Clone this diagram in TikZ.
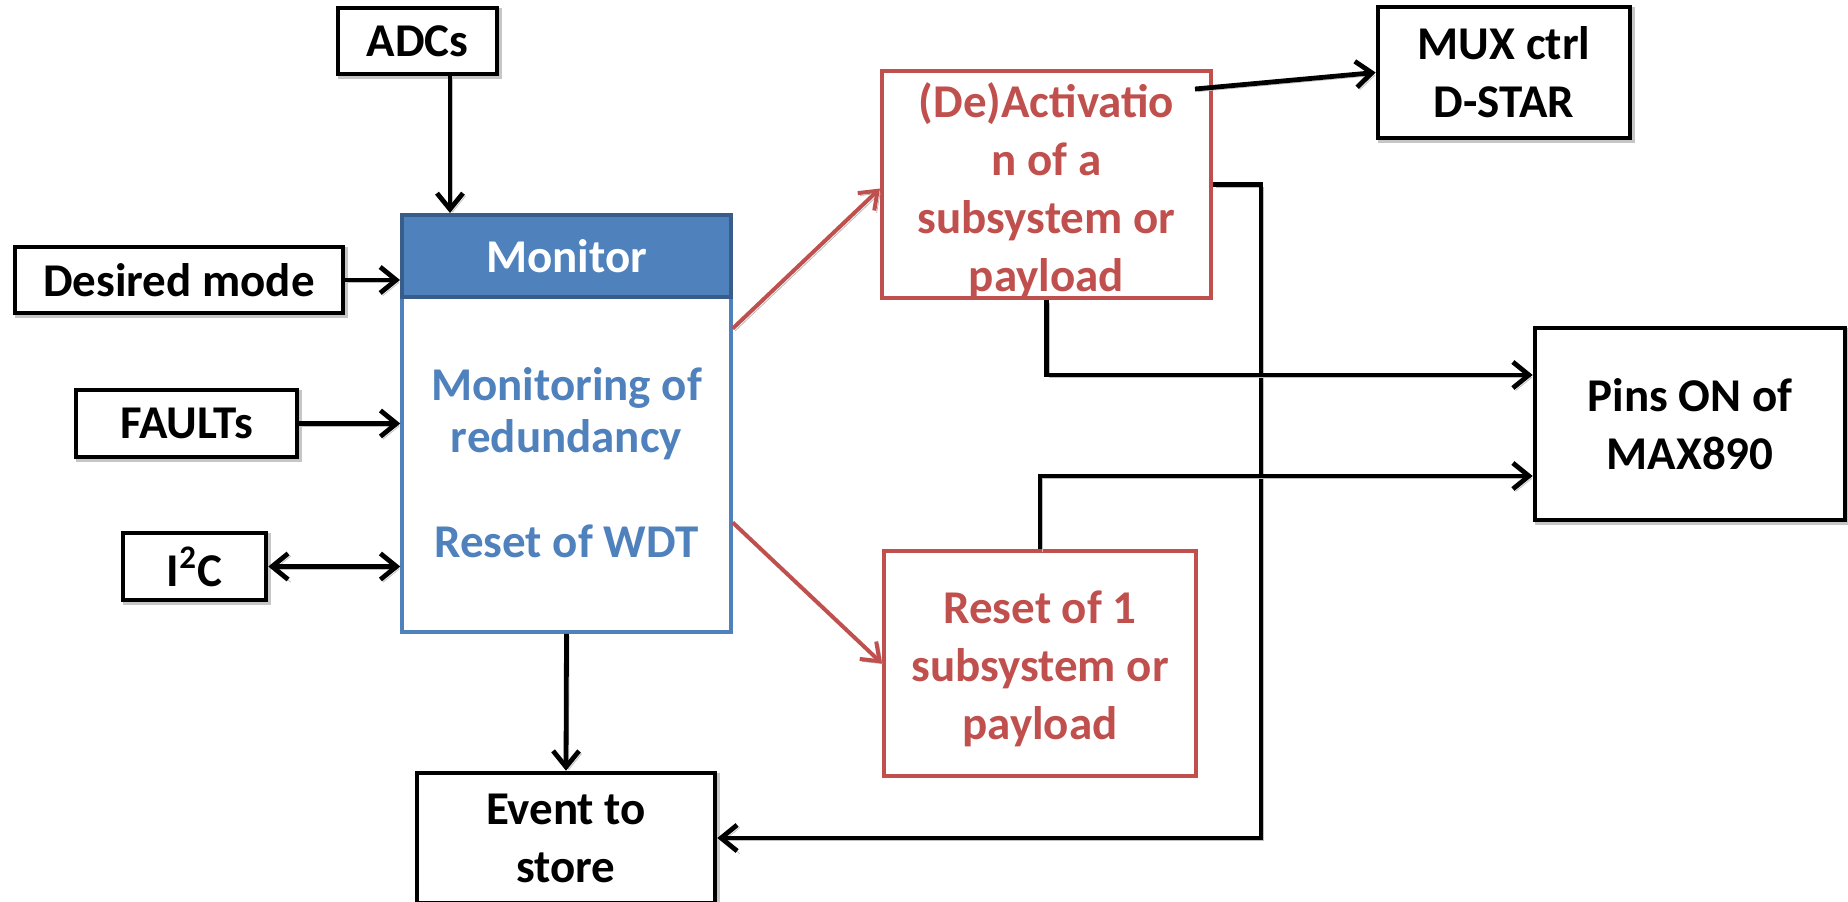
\documentclass[tikz,border=0pt]{standalone}
\usepackage{fontspec}
\setmainfont{Carlito}
\usetikzlibrary{arrows.meta,calc,shadows}
\definecolor{hdrblue}{HTML}{4F81BD}
\definecolor{hdredge}{HTML}{385D8A}
\definecolor{boxred}{HTML}{C0504D}

\begin{document}
\begin{tikzpicture}[x=0.5pt,y=-0.5pt,
  font=\fontsize{23.5}{29}\selectfont\bfseries,
  shade box/.style={drop shadow={shadow xshift=1.2pt, shadow yshift=-1.2pt,
      opacity=1, fill=none, draw=gray!45, line width=2.3pt}},
  blk/.style={draw=black, line width=2.3pt, fill=white, inner sep=0pt,
      align=center, shade box},
  redbox/.style={draw=boxred, line width=2pt, fill=white, inner sep=0pt},
  redtxt/.style={text=boxred, align=center},
  bluetxt/.style={text=hdrblue, align=center,
      font=\fontsize{23.5}{26}\selectfont\bfseries},
  wire/.style={line width=2.4pt, line join=miter,
      preaction={draw=gray!50, transform canvas={shift={(1.3pt,-1.3pt)}}}},
  arr/.style={wire, -{Straight Barb[length=8pt,width=13pt]}},
  dblarr/.style={wire, {Straight Barb[length=8pt,width=13pt]}-{Straight Barb[length=8pt,width=13pt]}},
  redarr/.style={line width=2pt, draw=boxred,
      preaction={draw=gray!55, transform canvas={shift={(1.2pt,-1.2pt)}}},
      -{Straight Barb[length=8pt,width=12pt]}},
]
\useasboundingbox (0,0) rectangle (1848,901);

% inputs on the left
\node[blk, minimum width=79.5pt, minimum height=33pt] (adc) at (417.5,41) {ADCs};
\node[blk, minimum width=164pt, minimum height=33pt] (des) at (179,280) {Desired mode};
\node[blk, minimum width=110.5pt, minimum height=33.5pt] (flt) at (186.5,423.5) {FAULTs};
\node[blk, minimum width=71.5pt, minimum height=33.5pt] (i2c) at (194.5,566.5) {I\textsuperscript{2}C};

% monitor block
\node[draw=hdrblue, line width=1.75pt, fill=white, minimum width=164.5pt,
      minimum height=167.5pt, inner sep=0pt] (mon) at (566.5,464.5) {};
\node[draw=hdredge, line width=2pt, fill=hdrblue, text=white,
      minimum width=164.5pt, minimum height=41pt, inner sep=0pt] (hdr) at (566.5,256) {Monitor};
\node[bluetxt] (montxt) at (566.5,414) {Monitoring of\\redundancy};
\node[bluetxt] (wdttxt) at (566.5,541) {Reset of WDT};

% output
\node[blk, minimum width=149pt, minimum height=65pt] (evt) at (566,838) {Event to\\store};

% actions
\node[redbox, minimum width=164.5pt, minimum height=113.5pt] (act) at (1046.5,184.5) {};
\node[redtxt] (acttxt) at (1046.5,191) {(De)Activatio\\n of a\\subsystem or\\payload};
\node[redbox, minimum width=156pt, minimum height=112.5pt] (rst) at (1040,663.5) {};
\node[redtxt] (rsttxt) at (1040,669) {Reset of 1\\subsystem or\\payload};

% targets
\node[blk, minimum width=126pt, minimum height=65.5pt] (mux) at (1504,72.5) {MUX ctrl\\D-STAR};
\node[blk, minimum width=155pt, minimum height=96pt] (pins) at (1690,424) {Pins ON of\\MAX890};

% connectors into the monitor
\draw[arr] ([xshift=16.25pt]adc.south) -- ([xshift=16.25pt]adc.south |- hdr.north);
\draw[arr] (des.east) -- (des.east -| hdr.west);
\draw[arr] (flt.east) -- (flt.east -| mon.west);
\draw[dblarr] (i2c.east) -- (i2c.east -| mon.west);
\draw[arr] (mon.south) -- (evt.north);

% monitor to actions
\draw[redarr] ([yshift=68pt]mon.east) -- ([yshift=-2pt]act.west);
\draw[redarr] ([yshift=-29pt]mon.east) -- (rst.west);

% actions to targets
\draw[arr] ([xshift=-9pt,yshift=47.75pt]act.east) -- (mux.west);
\draw[arr] (act.east) -- ++(24pt,0) |- (evt.east);
\draw[arr] (act.south) |- ([yshift=24.5pt]pins.west);
\draw[arr] (rst.north) |- ([yshift=-26pt]pins.west);
\end{tikzpicture}
\end{document}
